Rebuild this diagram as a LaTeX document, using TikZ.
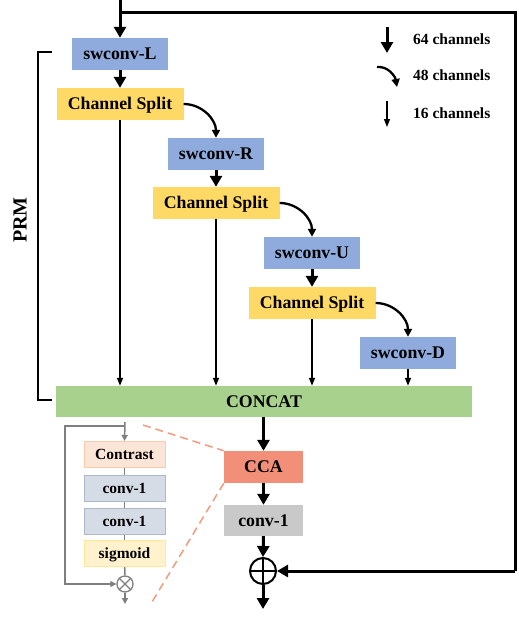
\documentclass[tikz,border=0pt]{standalone}
\usepackage{fontspec}
\setmainfont{Liberation Serif}
\usetikzlibrary{arrows.meta}
\definecolor{cblue}{HTML}{8FAADC}
\definecolor{cyellow}{HTML}{FFD966}
\definecolor{cgreen}{HTML}{A9D18E}
\definecolor{ccca}{HTML}{F28F78}
\definecolor{cgray}{HTML}{C9C9C9}
\definecolor{cdash}{HTML}{F29B7E}
\definecolor{pfill}{HTML}{FBE5D6}\definecolor{pline}{HTML}{F8CBAD}
\definecolor{sfill}{HTML}{D6DCE5}\definecolor{sline}{HTML}{ADB9CA}
\definecolor{yfill}{HTML}{FFF2CC}\definecolor{yline}{HTML}{FFE699}
\definecolor{gline}{HTML}{7F7F7F}
\begin{document}
\begin{tikzpicture}[x=1pt,y=-1pt,
  box/.style={draw=none,inner sep=0pt,minimum height=32pt,text height=11.8pt,text depth=0pt,font=\fontsize{17.8}{20}\selectfont\bfseries},
  bluebox/.style={box,fill=cblue,minimum width=96pt},
  splitbox/.style={box,fill=cyellow,minimum width=127pt},
  ibox/.style={inner sep=0pt,minimum width=81pt,minimum height=26pt,text height=10.3pt,text depth=0pt,line width=1pt,font=\fontsize{15.5}{18}\selectfont\bfseries},
  thickar/.style={line width=3pt,-{Triangle[width=12pt,length=11pt]}},
  thinar/.style={line width=1.3pt,-{Triangle[width=6pt,length=8pt]}},
  curvar/.style={line width=2.3pt,-{Triangle[width=8pt,length=8pt]}},
  grayar/.style={draw=gline,line width=1.5pt,-{Triangle[width=6pt,length=6pt]}},
  grayln/.style={draw=gline,line width=1.5pt},
  legend/.style={anchor=west,inner sep=0pt,text height=10.3pt,text depth=0pt,font=\fontsize{15.5}{18}\selectfont\bfseries}]
\useasboundingbox (0,0) rectangle (519,621);

% main nodes
\node[bluebox] (swL) at (120,54) {swconv-L};
\node[splitbox] (cs1) at (120,104) {Channel Split};
\node[bluebox] (swR) at (216,154) {swconv-R};
\node[splitbox] (cs2) at (216,203) {Channel Split};
\node[bluebox] (swU) at (312,253) {swconv-U};
\node[splitbox] (cs3) at (312,303) {Channel Split};
\node[bluebox] (swD) at (408,353) {swconv-D};
\node[box,fill=cgreen,minimum width=416pt,minimum height=31pt] (concat) at (264,401.5) {CONCAT};
\node[box,fill=ccca,minimum width=79pt] (cca) at (263.5,467) {CCA};
\node[box,fill=cgray,minimum width=79pt,minimum height=31pt] (conv) at (263.5,520.5) {conv-1};
\node[circle,draw,line width=2pt,minimum size=26pt,inner sep=0pt] (plus) at (263,571) {};
\draw[line width=1.5pt] (plus.north) -- (plus.south) (plus.west) -- (plus.east);

% input and feedback
\coordinate (in) at (120,0);
\coordinate (tr) at (515,12);
\coordinate (tl) at (120,12);
\coordinate (br) at (515,571);
\coordinate (out) at (263,609);
\draw[thickar] (in) -- (swL.north);
\draw[line width=3pt] (tl) -- (tr) -- (br);
\draw[thickar] (br) -- (plus.east);

% vertical chain
\draw[thickar] (swL) -- (cs1);
\draw[thickar] (swR) -- (cs2);
\draw[thickar] (swU) -- (cs3);
\draw[curvar] (cs1.east) to[out=0,in=90] (swR.north);
\draw[curvar] (cs2.east) to[out=0,in=90] (swU.north);
\draw[curvar] (cs3.east) to[out=0,in=90] (swD.north);
\draw[thinar] (cs1.south) -- (cs1.south |- concat.north);
\draw[thinar] (cs2.south) -- (cs2.south |- concat.north);
\draw[thinar] (cs3.south) -- (cs3.south |- concat.north);
\draw[thinar] (swD.south) -- (swD.south |- concat.north);
\draw[thickar] (concat.south -| cca.north) -- (cca.north);
\draw[thickar] (cca) -- (conv);
\draw[thickar] (conv.south) -- (plus.north);
\draw[thickar] (plus.south) -- (out);

% PRM bracket
\coordinate (b1) at (52,52);
\coordinate (b2) at (38,52);
\coordinate (b3) at (38,400);
\coordinate (b4) at (52,400);
\draw[line width=2.5pt] (b1) -- (b2) -- (b3) -- (b4);
\node[rotate=90,inner sep=0pt,font=\fontsize{20}{22}\selectfont\bfseries] (prm) at (20,220) {PRM};

% legend
\coordinate (l1a) at (387,27); \coordinate (l1b) at (387,53);
\coordinate (l2a) at (377,67); \coordinate (l2b) at (397,87);
\coordinate (l3a) at (387,101); \coordinate (l3b) at (387,127);
\draw[thickar] (l1a) -- (l1b);
\draw[curvar] (l2a) to[out=5,in=100] (l2b);
\draw[thinar] (l3a) -- (l3b);
\node[legend] (t64) at (413,39) {64 channels};
\node[legend] (t48) at (413,75) {48 channels};
\node[legend] (t16) at (413,113) {16 channels};

% CCA inset
\node[ibox,draw=pline,fill=pfill] (contrast) at (124.5,454.5) {Contrast};
\node[ibox,draw=sline,fill=sfill] (c1a) at (124.5,488) {conv-1};
\node[ibox,draw=sline,fill=sfill] (c1b) at (124.5,521) {conv-1};
\node[ibox,draw=yline,fill=yfill] (sig) at (124.5,553.5) {sigmoid};
\node[circle,draw=gline,line width=1.3pt,minimum size=16pt,inner sep=0pt] (mul) at (125,584) {};
\draw[draw=gline,line width=1.3pt] (mul.north west) -- (mul.south east) (mul.north east) -- (mul.south west);
\coordinate (itop) at (125,422);
\coordinate (iloop) at (125,426);
\coordinate (ilt) at (65,426);
\coordinate (ilb) at (65,584);
\coordinate (iout) at (125,604);
\draw[grayar] (itop) -- (contrast.north);
\draw[grayln] (contrast) -- (c1a);
\draw[grayln] (c1a) -- (c1b);
\draw[grayln] (c1b) -- (sig);
\draw[grayln] (sig) -- (mul);
\draw[grayar] (iloop) -- (ilt) -- (ilb) -- (mul.west);
\draw[grayar] (mul.south) -- (iout);

% zoom dashed lines
\coordinate (d1) at (143,425);
\coordinate (d2) at (152,602);
\draw[cdash,line width=1.5pt,dash pattern=on 8pt off 5pt] (d1) -- (cca.north west);
\draw[cdash,line width=1.5pt,dash pattern=on 8pt off 5pt] (cca.south west) -- (d2);
\end{tikzpicture}
\end{document}
